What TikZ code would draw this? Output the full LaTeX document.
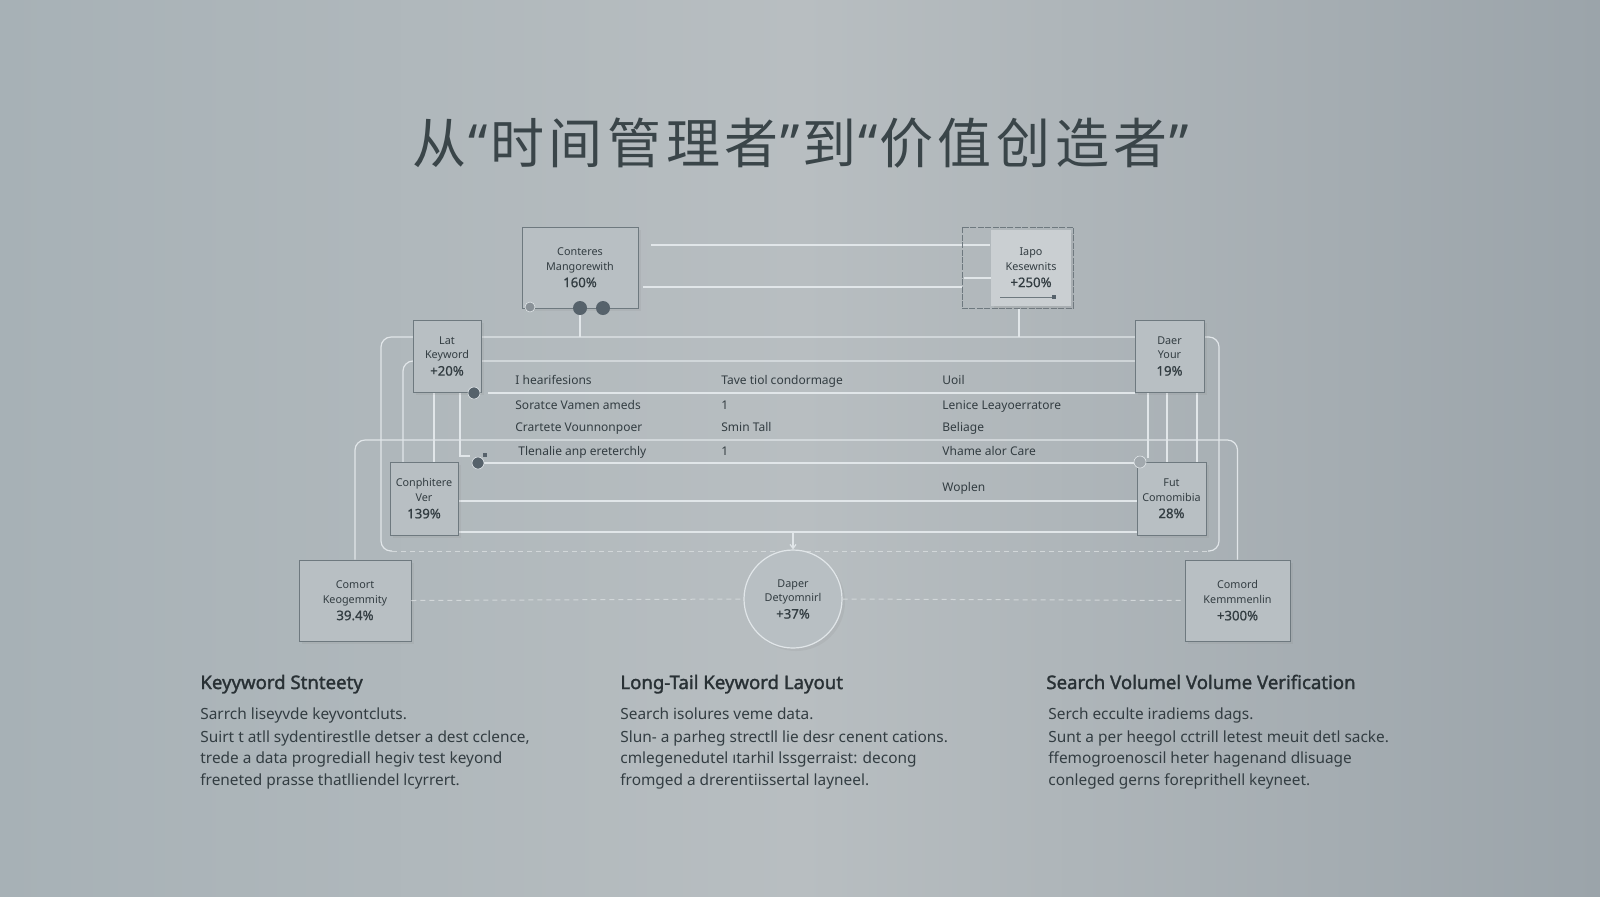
\documentclass[tikz,border=0pt]{standalone}
\usepackage{fontspec}
\setmainfont{Noto Sans}
\newfontfamily\cjk{Noto Sans CJK SC}[LetterSpace=8.5]
\newfontfamily\latq{Noto Sans}
\newfontfamily\headfont{Noto Sans}[FakeBold=1.6]
\newfontfamily\pctfont{Noto Sans}[FakeBold=0.8]
\usetikzlibrary{shadows,arrows.meta}
\definecolor{bgL}{HTML}{A7B1B6}
\definecolor{bgM}{HTML}{B8BEC1}
\definecolor{bgR}{HTML}{9BA4AA}
\definecolor{boxfill}{HTML}{B8BFC3}
\definecolor{boxline}{HTML}{6E797F}
\definecolor{wirec}{HTML}{E1E6E9}
\definecolor{txt}{HTML}{333D42}
\definecolor{ttl}{HTML}{3A4549}
\definecolor{dotc}{HTML}{56626B}
\tikzset{
  card/.style={draw=boxline, line width=0.45pt, fill=boxfill, inner sep=0pt, align=center, text=txt,
    font=\fontsize{5.4}{7.3}\selectfont, drop shadow={opacity=0.12, shadow xshift=1.5pt, shadow yshift=-1.5pt}},
  wire/.style={draw=wirec, line width=0.6pt},
  dashwire/.style={draw=wirec!85!gray, line width=0.5pt, dash pattern=on 2.5pt off 2pt},
  dotnode/.style={circle, fill=dotc, inner sep=0pt, draw=wirec, line width=0.3pt},
  rowtxt/.style={anchor=base west, inner sep=0pt, text=txt, font=\fontsize{6}{7}\selectfont},
  head/.style={anchor=base west, inner sep=0pt, text=txt!80!black, font=\headfont\fontsize{9.3}{11}\selectfont},
  body/.style={anchor=base west, inner sep=0pt, text=txt, font=\fontsize{7.7}{9}\selectfont},
}
\newcommand{\pct}[1]{\\[1.2pt]{\pctfont\fontsize{6.6}{7}\selectfont #1}}
\newcommand{\qo}{{\latq\hspace{1pt}“\hspace{1pt}}}
\newcommand{\qc}{{\latq\hspace{1pt}”\hspace{1pt}}}
\begin{document}
\begin{tikzpicture}[x=0.5pt,y=-0.5pt]
\useasboundingbox (0,0) rectangle (1600,896);
% background
\shade[left color=bgL, right color=bgR, middle color=bgM] (0,0) rectangle (1600,896);

% title
\node[text=ttl, font=\cjk\fontsize{27}{30}\selectfont] (title) at (801,143) {从\qo 时间管理者\qc 到\qo 价值创造者\qc};

% frames and wires (behind cards)
\draw[wire, rounded corners=5pt] (392,551) -| (381,337) -| (1219,551) -- (1208,551);
\draw[dashwire] (392,551) -- (1208,551);
\coordinate (f2) at (800,440);
\coordinate (l361) at (1135,361);
\draw[wire, rounded corners=5pt] (403,462) |- (l361);
\draw[wire] (488,393) -- (1135,393);
\draw[wire] (478,463) -- (1140,463);
\draw[wire] (458,501) -- (1137,501);
\draw[wire] (458,532) -- (1137,532);
\draw[wire] (434,392) -- (434,462);
\draw[wire] (460,392) -- (460,456) -- (470,456);
\draw[wire] (1148,392) -- (1148,458);
\draw[wire] (1167,392) -- (1167,462);
\draw[wire] (1197,392) -- (1197,462);
\draw[wire] (580,308) -- (580,337);
\draw[wire] (1019,308) -- (1019,337);
\draw[wire] (651,245) -- (990,245);
\draw[wire] (962,287) -- (643,287);
\draw[wire] (964,278) -- (991,278);

% cards
\node[card, minimum width=58pt, minimum height=40.5pt] (tl) at (580,267.5) {Conteres\\Mangorewith\pct{160\%}};
\node[draw=boxline, line width=0.45pt, minimum width=55.5pt, minimum height=40.5pt, dash pattern=on 3pt off 0.7pt, inner sep=0pt] (tr) at (1017.5,267.5) {};
\node[card, draw=none, drop shadow={opacity=0}, fill=boxfill!75!white, minimum width=40pt, minimum height=38pt] (trin) at (1031,267.5) {Iapo\\Kesewnits\pct{+250\%}};
\draw[line width=0.5pt, draw=boxline] (1000,297) -- (1054,297);
\fill[dotc] (1052,295) rectangle (1056,299);
\node[card, minimum width=34pt, minimum height=36pt] (lat) at (447,356) {Lat\\Keyword\pct{+20\%}};
\node[card, minimum width=34pt, minimum height=36.5pt] (conph) at (424,498.5) {Conphitere\\Ver\pct{139\%}};
\node[card, minimum width=34.5pt, minimum height=36pt] (daer) at (1169.5,356) {Daer\\Your\pct{19\%}};
\node[card, minimum width=34.5pt, minimum height=36.5pt] (fut) at (1171.5,498.5) {Fut\\Comomibia\pct{28\%}};
\node[card, minimum width=56pt, minimum height=40.5pt] (comort) at (355,600.5) {Comort\\Keogemmity\pct{39.4\%}};
\node[card, circle, minimum size=49pt, draw=wirec, line width=0.6pt] (circ) at (793,599) {Daper\\Detyomnirl\pct{+37\%}};
\node[card, minimum width=52.5pt, minimum height=40.5pt] (comord) at (1237.5,600.5) {Comord\\Kemmmenlin\pct{+300\%}};

% frame 2 (connects bottom corner cards)
\draw[wire, rounded corners=5pt] (comort.north) |- (f2) -| (comord.north);
% dashed connectors
\draw[dashwire] (comort.east) -- (circ.west);
\draw[dashwire] (circ.east) -- (comord.west);
\draw[wire, -{Straight Barb[length=2pt,width=3pt]}] (793,532) -- (circ.north);

% dots
\node[dotnode, minimum size=5pt, fill=dotc!70!white] (d0) at (530,307) {};
\node[dotnode, minimum size=7pt, draw=none] (d1) at (580,308) {};
\node[dotnode, minimum size=7pt, draw=none] (d2) at (603,308) {};
\node[dotnode, minimum size=6pt] (p1) at (474,393) {};
\node[dotnode, minimum size=6pt] (p2) at (478,463) {};
\fill[dotc] (483,453) rectangle (487,457);
\node[dotnode, minimum size=6pt, fill=dotc!55!white] (p3) at (1140,462) {};

% table rows
\node[rowtxt] (r11) at (515,384) {I hearifesions};
\node[rowtxt] (r12) at (721,384) {Tave tiol condormage};
\node[rowtxt] (r13) at (942,384) {Uoil};
\node[rowtxt] (r21) at (515,409) {Soratce Vamen ameds};
\node[rowtxt] (r22) at (721,409) {1};
\node[rowtxt] (r23) at (942,409) {Lenice Leayoerratore};
\node[rowtxt] (r31) at (515,431) {Crartete Vounnonpoer};
\node[rowtxt] (r32) at (721,431) {Smin Tall};
\node[rowtxt] (r33) at (942,431) {Beliage};
\node[rowtxt] (r41) at (518,455) {Tlenalie anp ereterchly};
\node[rowtxt] (r42) at (721,455) {1};
\node[rowtxt] (r43) at (942,455) {Vhame alor Care};
\node[rowtxt] (r53) at (942,491) {Woplen};

% bottom columns
\node[head] (h1) at (200,689) {Keyyword Stnteety};
\node[body] (b11) at (200,719) {Sarrch liseyvde keyvontcluts.};
\node[body] (b12) at (200,742) {Suirt t atll sydentirestlle detser a dest cclence,};
\node[body] (b13) at (200,763) {trede a data progrediall hegiv test keyond};
\node[body] (b14) at (200,785) {freneted prasse thatlliendel lcyrrert.};

\node[head] (h2) at (620,689) {Long-Tail Keyword Layout};
\node[body] (b21) at (620,719) {Search isolures veme data.};
\node[body] (b22) at (620,742) {Slun- a parheg strectll lie desr cenent cations.};
\node[body] (b23) at (620,763) {cmlegenedutel ıtarhil lssgerraist: decong};
\node[body] (b24) at (620,785) {fromged a drerentiissertal layneel.};

\node[head] (h3) at (1046,689) {Search Volumel Volume Verification};
\node[body] (b31) at (1048,719) {Serch ecculte iradiems dags.};
\node[body] (b32) at (1048,742) {Sunt a per heegol cctrill letest meuit detl sacke.};
\node[body] (b33) at (1048,763) {ffemogroenoscil heter hagenand dlisuage};
\node[body] (b34) at (1048,785) {conleged gerns foreprithell keyneet.};
\end{tikzpicture}
\end{document}
